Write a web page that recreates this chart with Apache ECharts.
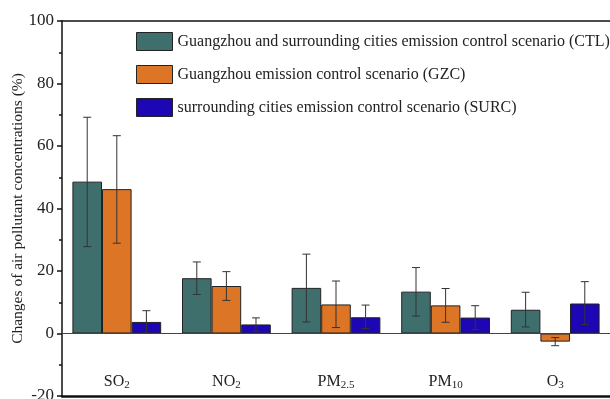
<!DOCTYPE html>
<html>
<head>
<meta charset="utf-8">
<script src="https://cdn.jsdelivr.net/npm/echarts@6/dist/echarts.min.js"></script>
<style>html,body{margin:0;padding:0;background:#fff}#c{width:610px;height:399px}</style>
</head>
<body>
<div id="c"></div>
<script>
const categories = ['SO2', 'NO2', 'PM2.5', 'PM10', 'O3'];
const categoryLabels = ['{n|SO}{s|2}', '{n|NO}{s|2}', '{n|PM}{s|2.5}', '{n|PM}{s|10}', '{n|O}{s|3}'];
const seriesNames = [
  'Guangzhou and surrounding cities emission control scenario (CTL)',
  'Guangzhou emission control scenario (GZC)',
  'surrounding cities emission control scenario (SURC)'
];
const ctl = [48.6, 17.7, 14.6, 13.4, 7.6];
const ctlLow = [27.8, 12.5, 3.7, 5.6, 2.1];
const ctlHigh = [69.2, 22.9, 25.4, 21.1, 13.2];
const gzc = [46.2, 15.2, 9.3, 9.0, -2.6];
const gzcLow = [28.9, 10.6, 1.9, 3.6, -3.9];
const gzcHigh = [63.3, 19.8, 16.8, 14.4, -1.3];
const surc = [3.7, 2.9, 5.2, 5.1, 9.6];
const surcLow = [0.2, 0.7, 1.6, 1.3, 2.9];
const surcHigh = [7.3, 5.0, 9.1, 8.9, 16.6];
const yTicks = [-20, 0, 20, 40, 60, 80, 100];

const colors = ['#3e6f6c', '#dd7526', '#1d06b3'];
const FONT = 'Liberation Serif, Times New Roman, serif';
const BARW = 0.27;

function errSeries(k, low, high) {
  return {
    type: 'custom',
    z: 5,
    silent: true,
    data: low.map((l, i) => [i, l, high[i]]),
    encode: { x: 0, y: [1, 2] },
    renderItem: function (params, api) {
      const x = api.value(0), lo = api.value(1), hi = api.value(2);
      const band = api.size([1, 0])[0];
      const off = (k - 1) * band * BARW;
      const pt = api.coord([x, hi]);
      const pb = api.coord([x, lo]);
      const cx = pt[0] + off;
      const cap = 4;
      const st = { stroke: '#333', lineWidth: 1 };
      return {
        type: 'group',
        children: [
          { type: 'line', shape: { x1: cx, y1: pt[1], x2: cx, y2: pb[1] }, style: st },
          { type: 'line', shape: { x1: cx - cap, y1: pt[1], x2: cx + cap, y2: pt[1] }, style: st },
          { type: 'line', shape: { x1: cx - cap, y1: pb[1], x2: cx + cap, y2: pb[1] }, style: st }
        ]
      };
    }
  };
}

const chart = echarts.init(document.getElementById('c'), null, { renderer: 'canvas' });
const vals = [ctl, gzc, surc];
chart.setOption({
  animation: false,
  backgroundColor: '#fff',
  textStyle: { fontFamily: FONT },
  grid: { left: 62, right: 0, top: 21, bottom: 3, containLabel: false, outerBoundsMode: 'none' },
  legend: {
    orient: 'vertical',
    left: 136,
    top: 32,
    padding: 0,
    itemWidth: 36,
    itemHeight: 18,
    itemGap: 14,
    icon: 'rect',
    selectedMode: false,
    data: seriesNames,
    textStyle: { fontFamily: FONT, fontSize: 16, color: '#222' },
    itemStyle: { borderColor: '#222', borderWidth: 1 }
  },
  xAxis: [{
    type: 'category',
    data: categories,
    position: 'bottom',
    axisLine: { show: true, onZero: false, lineStyle: { color: '#111', width: 2.5 } },
    axisTick: { show: false },
    axisLabel: {
      inside: true,
      margin: 5,
      formatter: function (v, i) { return categoryLabels[i]; },
      rich: {
        n: { fontFamily: FONT, fontSize: 16, color: '#222' },
        s: { fontFamily: FONT, fontSize: 11, color: '#222', padding: [8, 0, 0, 0] }
      }
    }
  }, {
    type: 'category',
    data: categories,
    position: 'top',
    axisLine: { show: true, onZero: false, lineStyle: { color: '#111', width: 1.5 } },
    axisTick: { show: false },
    axisLabel: { show: false }
  }],
  yAxis: {
    type: 'value',
    min: -20,
    max: 100,
    interval: 20,
    name: 'Changes of air pollutant concentrations (%)',
    nameLocation: 'middle',
    nameGap: 36,
    nameMoveOverlap: false,
    nameTextStyle: { fontFamily: FONT, fontSize: 15.5, color: '#222' },
    axisLine: { show: true, onZero: false, lineStyle: { color: '#111', width: 1.5 } },
    axisTick: { show: true, inside: false, length: 5, lineStyle: { color: '#111', width: 1.5 } },
    minorTick: { show: true, splitNumber: 2, length: 3, lineStyle: { color: '#111', width: 1.5 } },
    splitLine: { show: false },
    axisLabel: {
      margin: 8,
      fontFamily: FONT,
      fontSize: 17,
      color: '#222',
      formatter: function (v) { return yTicks.indexOf(v) >= 0 ? String(v) : ''; }
    }
  },
  series: [
    ...vals.map((d, k) => ({
      name: seriesNames[k],
      type: 'bar',
      data: d,
      barWidth: (BARW * 100) + '%',
      barGap: '0%',
      itemStyle: { color: colors[k], borderColor: '#222', borderWidth: 1 },
      z: 2,
      markLine: k === 0 ? {
        silent: true,
        symbol: ['none', 'none'],
        label: { show: false },
        lineStyle: { color: '#444', width: 1, type: 'solid' },
        data: [{ yAxis: 0 }]
      } : undefined
    })),
    errSeries(0, ctlLow, ctlHigh),
    errSeries(1, gzcLow, gzcHigh),
    errSeries(2, surcLow, surcHigh)
  ]
});
</script>
</body>
</html>
